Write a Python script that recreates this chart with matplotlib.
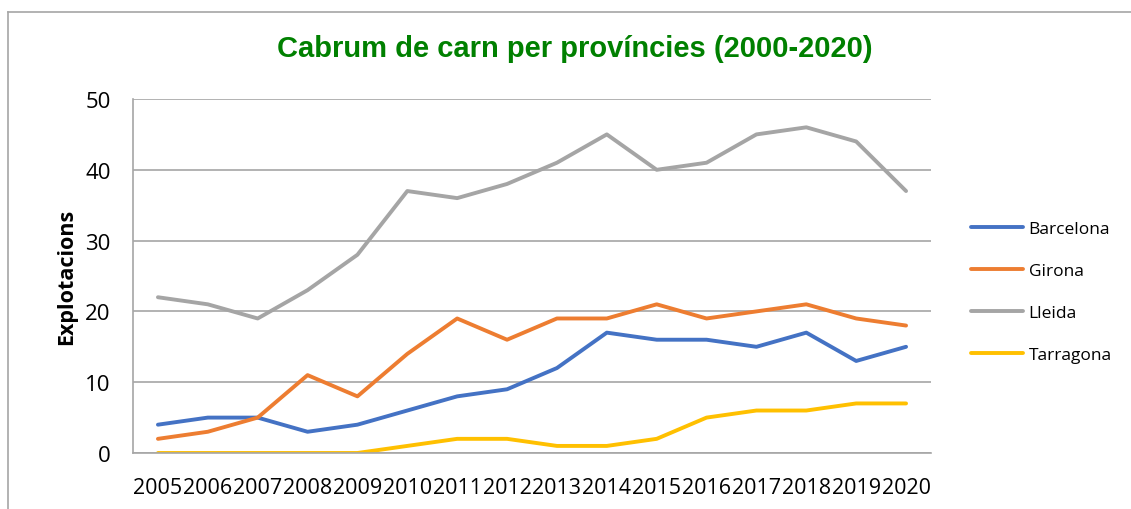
import matplotlib.pyplot as plt
from matplotlib.lines import Line2D

years = [str(y) for y in range(2005, 2021)]
barcelona = [4, 5, 5, 3, 4, 6, 8, 9, 12, 17, 16, 16, 15, 17, 13, 15]
girona = [2, 3, 5, 11, 8, 14, 19, 16, 19, 19, 21, 19, 20, 21, 19, 18]
lleida = [22, 21, 19, 23, 28, 37, 36, 38, 41, 45, 40, 41, 45, 46, 44, 37]
tarragona = [0, 0, 0, 0, 0, 1, 2, 2, 1, 1, 2, 5, 6, 6, 7, 7]

series = [
    ("Barcelona", barcelona, "#4472C4"),
    ("Girona", girona, "#ED7D31"),
    ("Lleida", lleida, "#A5A5A5"),
    ("Tarragona", tarragona, "#FFC000"),
]

W, H = 1131, 510
fig = plt.figure(figsize=(W / 100, H / 100), dpi=100)
ax = fig.add_axes([133 / W, (H - 454) / H, 798 / W, 354 / H])

# marc del gràfic (només dalt i esquerra visibles)
fig.lines.append(Line2D([8 / W, 1], [(H - 12.5) / H] * 2, transform=fig.transFigure,
                        color="#A6A6A6", linewidth=1.2))
fig.lines.append(Line2D([8 / W] * 2, [0, (H - 12.5) / H], transform=fig.transFigure,
                        color="#A6A6A6", linewidth=1.2))

x = list(range(len(years)))
for name, vals, col in series:
    ax.plot(x, vals, color=col, linewidth=2.8, label=name, solid_capstyle="round")

ax.set_xlim(-0.5, len(years) - 0.5)
ax.set_ylim(0, 50)
ax.set_yticks(range(0, 51, 10))
ax.set_xticks(x)
ax.set_xticklabels(years)
ax.grid(axis="y", color="#A6A6A6", linewidth=1.2)
ax.set_axisbelow(True)
for s in ["top", "right"]:
    ax.spines[s].set_visible(False)
for s in ["left", "bottom"]:
    ax.spines[s].set_color("#A6A6A6")
    ax.spines[s].set_linewidth(1.2)
ax.tick_params(length=0, labelsize=15.5, pad=17)
ax.tick_params(axis="y", labelsize=16, pad=16)
for lab in ax.get_xticklabels() + ax.get_yticklabels():
    lab.set_fontfamily("Open Sans")

ax.set_ylabel("Explotacions", fontsize=15.5, fontweight="bold", family="Open Sans", labelpad=6)
fig.text(575 / W, (H - 49) / H, "Cabrum de carn per províncies (2000-2020)", ha="center", va="center",
         color="#008000", fontsize=21, fontweight="bold", family="Liberation Sans")

leg = ax.legend(loc="center left", bbox_to_anchor=(1.03, 0.455), frameon=False,
                prop={"family": "Open Sans", "size": 12.5}, handlelength=3.0,
                labelspacing=1.5, handletextpad=0.35)

fig.savefig("out.png", dpi=100)
